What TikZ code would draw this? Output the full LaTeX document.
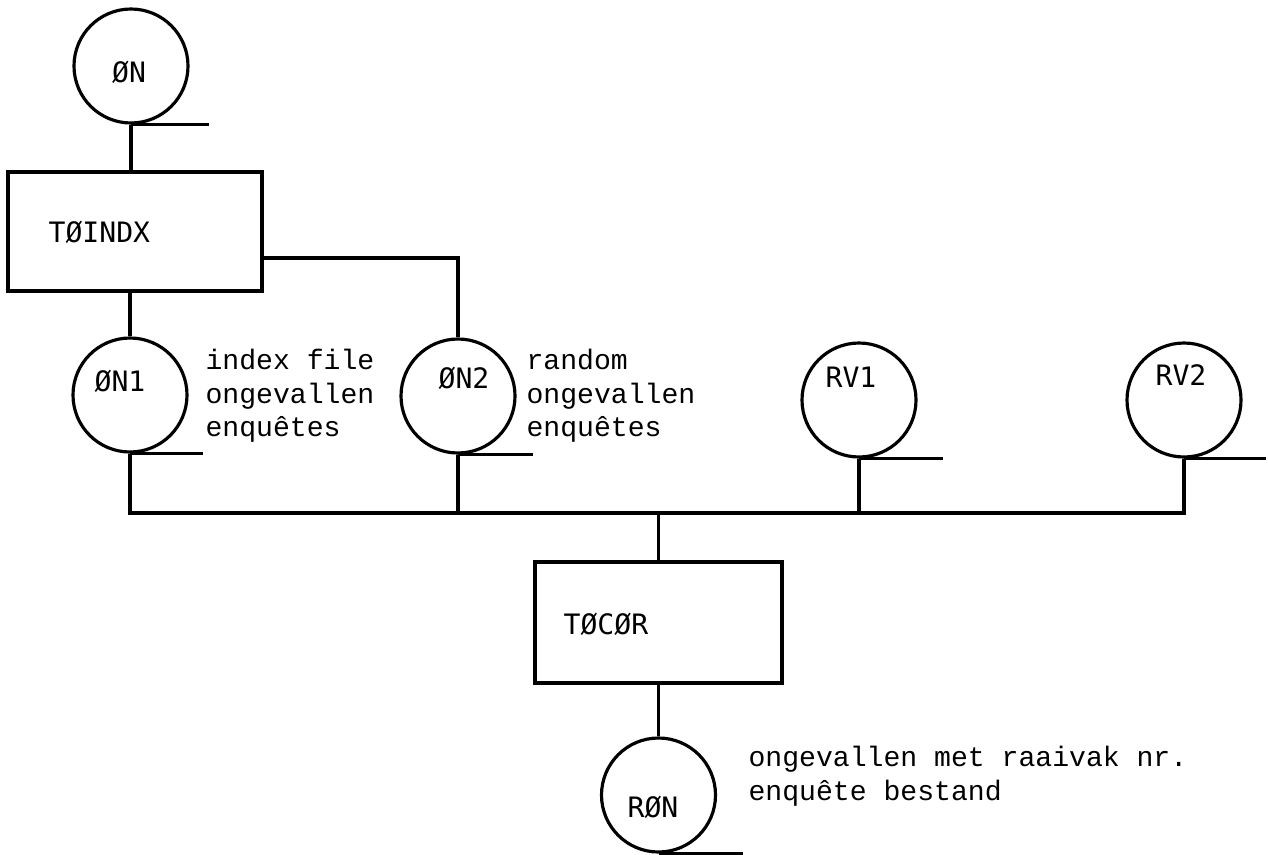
\documentclass[tikz,border=0pt]{standalone}
\usepackage{fontspec}
\newfontfamily\boxfont{DejaVu Sans Mono}
\newfontfamily\typefont{Liberation Mono}
\begin{document}
\begin{tikzpicture}[x=0.2mm,y=-0.2mm,line width=1.8pt,
  datafile/.style={draw, circle, minimum size=22.8mm, inner sep=0pt},
  progbox/.style={draw, rectangle, inner sep=0pt},
  symname/.style={font=\boxfont\fontsize{16}{18}\selectfont, inner sep=0pt},
  filenote/.style={font=\typefont\fontsize{16}{19}\selectfont, align=left, anchor=north west, inner sep=0pt}]
\useasboundingbox (0,0) rectangle (1268,854);

% files
\node[datafile] (on) at (131,66) {};
\node[datafile] (on1) at (130,395) {};
\node[datafile] (on2) at (458,396) {};
\node[datafile] (rv1) at (859,400) {};
\node[datafile] (rv2) at (1184,400) {};
\node[datafile] (ron) at (658.5,795) {};

% programs
\node[progbox, minimum width=50.8mm, minimum height=23.8mm] (toindx) at (135,231.5) {};
\node[progbox, minimum width=49.4mm, minimum height=24.2mm] (tocor) at (658.5,622.5) {};

% names
\node[symname] (on-t) at (129,72) {ØN};
\node[symname] (on1-t) at (120,381) {ØN1};
\node[symname] (on2-t) at (464,378) {ØN2};
\node[symname] (rv1-t) at (851,377) {RV1};
\node[symname] (rv2-t) at (1181,375) {RV2};
\node[symname] (ron-t) at (653,807) {RØN};
\node[symname, anchor=west] (toindx-t) at (47,232) {TØINDX};
\node[symname, anchor=west] (tocor-t) at (562,624) {TØCØR};

% notes
\node[filenote] (on1-n) at (204,348) {index file\\ongevallen\\enquêtes};
\node[filenote] (on2-n) at (525,348) {random\\ongevallen\\enquêtes};
\node[filenote] (ron-n) at (747,745) {ongevallen met raaivak nr.\\enquête bestand};

% tails
\foreach \f/\len in {on/78, on1/73, on2/75, rv1/84, rv2/82, ron/84}
  \draw (\f.south) -- ++(\len,0);

% connections
\coordinate (bus) at (658.5,513);
\draw (on.south) -- (on.south |- toindx.north);
\draw (toindx.south -| on1.north) -- (on1.north);
\draw ([shift={(0,26.5)}]toindx.east) -| (on2.north);
\draw (on1.south) |- (bus -| rv2.south) -- (rv2.south);
\draw (on2.south) -- (on2.south |- bus);
\draw (rv1.south) -- (rv1.south |- bus);
\draw (bus) -- (tocor.north);
\draw (tocor.south) -- (ron.north);
\end{tikzpicture}
\end{document}
